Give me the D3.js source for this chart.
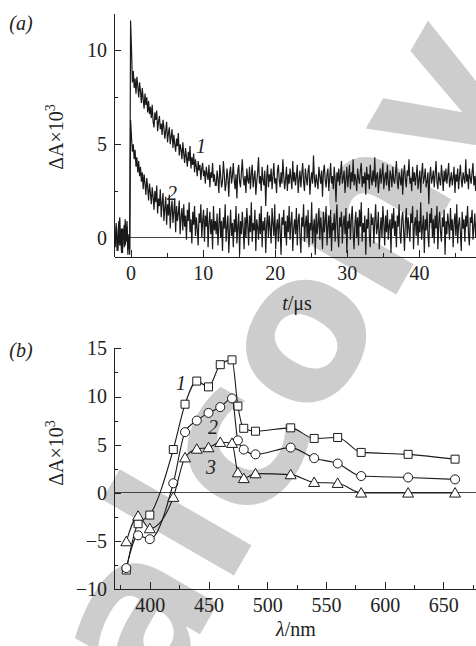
<!DOCTYPE html>
<meta charset="utf-8">
<head>
    <style>
        body { margin: 0; background: white; }
        svg text { font-family: "Liberation Serif", "Times New Roman", serif; }
        .axis path, .axis line { stroke: #222; stroke-width: 1; shape-rendering: crispEdges; }
        .axis text { font-family: "Liberation Serif", serif; font-size: 20px; fill: #222; }
    </style>
</head>
<body>
    <script src="https://d3js.org/d3.v7.min.js"></script>
    <div id="chart"></div>
    <script>
        // ---- data (a): kinetic traces, dA x 10^3, one sample every tStep us from tStart ----
        var tStart = -2.25, tStep = 0.125;
        var trace1 = [
            0.2, -0.5, 0.8, 0.1, -0.7, 0.4, 1.1, -0.2, 0.5, -0.8, 0.3, 0.7, -0.4, 0.0, 0.9, -0.6, -0.1, -0.9,
            11.6,
            10.1, 8.3, 8.9, 8.0, 8.5, 7.7, 8.6, 8.1, 7.5, 8.3,
            7.8, 7.2, 8.0, 7.4, 6.9, 7.7, 7.1, 7.5, 6.7, 7.3, 6.6, 7.0,
            6.4, 7.1, 6.2, 5.9, 6.7, 6.3, 6.8, 5.7, 6.2, 6.5, 5.8, 6.1,
            5.5, 6.3, 5.9, 5.3, 5.7, 6.2, 5.1, 5.6, 5.9, 5.0, 5.4, 5.8,
            4.8, 5.5, 5.0, 4.6, 5.3, 4.9, 5.6, 4.4, 5.0, 4.7, 4.2, 5.1,
            4.5, 4.0, 4.8, 4.3, 3.8, 4.6, 4.1, 4.9, 3.7, 4.3, 3.9, 4.5,
            3.5, 4.2, 3.8, 3.3, 4.1, 3.6, 3.9, 3.1, 3.7, 4.0, 3.3, 3.6,
            2.9, 3.8, 3.4, 3.1, 3.9, 2.7, 3.5, 3.2, 4.0, 3.0, 3.4, 2.8,
            2.8, 3.6, 3.1, 2.4, 3.9, 3.3, 2.7, 3.0, 4.1, 3.4, 2.5, 2.9, 3.7, 3.2, 2.2, 3.5, 3.8, 2.9, 3.3, 4.0,
            3.1, 2.6, 3.4, 2.1, 3.6, 3.9, 3.0, 2.7, 3.5, 4.2, 3.2, 2.8, 3.3, 2.4, 3.7, 3.1, 2.9, 3.8, 2.6, 3.4,
            3.9, 2.7, 3.2, 3.6, 2.3, 3.0, 3.5, 4.3, 2.9, 3.3, 2.5, 3.8, 3.1, 2.8, 3.6, 1.7, 3.2, 3.9, 2.7, 3.4,
            3.0, 3.7, 2.6, 3.3, 4.0, 2.9, 3.2, 2.4, 3.6, 3.9, 3.1, 2.7, 3.5, 2.9, 4.2, 3.3, 2.6, 3.1, 3.8, 2.5,
            3.4, 2.9, 3.7, 3.2, 2.6, 4.1, 3.0, 3.5, 2.8, 3.3, 3.9, 2.4, 3.1, 3.6, 2.7, 3.4, 4.0, 3.0, 2.5, 3.7,
            3.2, 2.8, 3.6, 3.9, 2.3, 3.1, 3.5, 2.9, 4.4, 3.2, 2.7, 3.4, 3.0, 2.6, 3.8, 3.3, 2.9, 3.6, 2.2, 3.5,
            3.9, 3.1, 2.7, 3.4, 3.7, 2.5, 3.2, 4.0, 2.9, 3.3, 2.6, 3.8, 3.1, 1.9, 3.5, 3.0, 3.7, 2.8, 3.4, 4.1,
            2.9, 3.2, 3.6, 2.4, 3.1, 3.8, 2.7, 3.3, 3.9, 2.6, 3.5, 3.0, 4.2, 2.8, 3.4, 3.1, 2.5, 3.7, 3.2, 2.9,
            3.6, 4.0, 2.7, 3.3, 2.9, 3.5, 2.3, 3.8, 3.1, 3.4, 2.6, 3.9, 3.2, 2.8, 3.6, 3.0, 4.3, 2.7, 3.3, 3.5,
            2.4, 3.1, 3.7, 2.9, 3.4, 4.0, 2.6, 3.2, 3.5, 2.8, 3.9, 3.0, 2.5, 3.6, 3.3, 2.7, 3.8, 3.1, 2.9, 3.4,
            4.1, 3.0, 2.6, 3.5, 3.2, 2.8, 3.7, 2.3, 3.4, 3.9, 3.1, 2.7, 3.6, 3.3, 4.2, 2.9, 3.2, 2.5, 3.8, 3.0,
            3.5, 2.8, 3.3, 3.9, 2.6, 3.1, 3.6, 2.4, 3.4, 4.0, 2.9, 3.2, 3.7, 2.7, 3.0, 3.5, 1.8, 3.3, 3.8, 2.9,
            3.2, 3.6, 2.7, 3.4, 4.1, 3.0, 2.6, 3.5, 3.1, 2.8, 3.9, 3.3, 2.5, 3.6, 3.0, 3.7, 2.9, 3.4, 4.0, 2.7,
            3.1, 3.5, 2.8, 3.2, 3.8, 2.4, 3.4, 3.0, 3.7, 2.6, 3.3, 3.9, 3.1, 2.7, 3.5, 3.2, 2.9, 4.2, 3.0, 3.4,
            2.6, 3.7, 3.2, 2.9, 3.5, 4.0, 2.8, 3.3, 2.5, 3.6, 3.1, 3.8, 2.7, 3.4, 3.0, 3.6, 2.8, 3.3, 3.9, 2.7, 3.2, 3.5
        ];
        var trace2 = [
            0.4, -0.3, 0.6, -0.7, 0.2, 0.9, -0.4, 0.1, -0.8, 0.5, 0.3, -0.5, 1.0, -0.2, 0.6, -0.9, 0.2, -0.6,
            6.3,
            5.4, 4.6, 5.0, 4.2, 4.7, 3.8, 4.3, 3.5, 4.1, 3.3,
            3.8, 3.0, 3.5, 2.6, 3.4, 2.9, 2.3, 3.2, 2.7, 2.0, 2.9, 2.4,
            1.8, 2.7, 2.2, 1.5, 2.5, 1.9, 2.8, 1.3, 2.1, 1.7, 2.6, 1.1,
            1.9, 2.4, 0.9, 1.6, 2.2, 0.7, 1.8, 1.2, 2.3, 0.5, 1.5, 2.0,
            0.8, 1.4, 2.1, 0.3, 1.7, 0.9, 1.3, 2.0, 0.2, 1.1, 1.6, 0.4,
            1.8, 0.6, 1.2, -0.1, 1.5, 0.9, 1.9, 0.3, 1.0, -0.3, 1.4, 0.7,
            1.7, 0.1, 1.1, 0.5, -0.4, 1.3, 0.8, 1.8, 0.0, 0.9, 1.5, -0.2,
            1.2, 0.6, 1.6, -0.5, 0.8, 1.4, 0.2, 1.0, -0.6, 1.7, 0.4, 0.9,
            0.2, 1.3, -0.4, 0.7, 1.6, 0.0, 0.9, -0.7, 1.1, 0.5, 1.8, -0.2, 0.6, 1.2, -0.8, 0.4, 1.5, 0.1, 0.8, -0.5,
            1.0, 0.3, 1.7, -0.3, 0.6, 1.3, -0.9, 0.9, 0.2, 1.4, 0.5, -0.6, 1.1, 0.0, 1.6, 0.7, -0.4, 1.2, 0.3, 1.9,
            -0.2, 0.8, 0.4, 1.5, -0.7, 1.0, 0.6, -0.1, 1.3, 0.2, 1.7, -0.5, 0.9, 0.4, 1.1, -0.8, 0.7, 1.4, 0.0, 1.2,
            0.5, -0.3, 1.6, 0.8, 0.1, 1.8, -0.6, 0.6, 1.0, -0.2, 1.3, 0.4, -0.9, 1.1, 0.7, 1.5, 0.0, 0.9, -0.4, 1.2,
            0.3, 1.7, -0.1, 0.8, 1.4, -0.7, 0.5, 1.0, 0.2, 1.6, -0.4, 0.9, 1.3, 0.1, -0.8, 1.1, 0.6, 1.8, -0.2, 0.7,
            1.2, 0.0, 1.5, -0.5, 0.8, 0.4, 1.9, -0.3, 0.6, 1.0, -0.9, 1.3, 0.2, 0.7, 1.6, -0.1, 1.1, 0.5, -0.6, 1.4,
            0.3, 0.9, 1.7, -0.4, 0.6, 1.2, 0.0, 1.5, -0.7, 0.8, 0.4, 1.3, -0.2, 1.0, 1.8, 0.1, -0.5, 1.1, 0.6, 1.4,
            -0.3, 0.7, 1.2, 0.2, 1.6, -0.8, 0.9, 0.5, 1.3, -0.1, 1.0, 1.7, 0.3, -0.6, 0.8, 1.4, 0.0, 1.1, -0.4, 1.5,
            0.6, 1.9, -0.2, 0.8, 0.3, 1.2, -0.9, 1.0, 0.5, 1.6, 0.1, -0.5, 1.3, 0.7, 1.1, -0.3, 0.9, 1.8, 0.2, 0.6,
            1.4, -0.6, 0.4, 1.1, 0.0, 1.7, 0.8, -0.4, 1.2, 0.3, 1.5, -0.1, 0.7, 1.0, -0.8, 1.3, 0.5, 1.6, 0.1, 0.9,
            -0.5, 1.2, 0.6, 1.8, 0.2, -0.3, 1.0, 1.4, 0.4, -0.7, 0.9, 1.6, 0.0, 1.1, 0.5, -0.2, 1.3, 0.8, 1.7, -0.6,
            0.7, 1.1, 0.1, 1.5, -0.4, 0.9, 0.3, 1.9, -0.1, 0.6, 1.2, -0.8, 1.0, 0.4, 1.4, 0.2, -0.5, 1.3, 0.8, 1.6,
            0.0, 1.0, -0.3, 1.2, 0.5, 1.7, -0.6, 0.8, 1.4, 0.3, -0.2, 1.1, 0.6, 1.5, -0.9, 0.9, 0.2, 1.3, 0.7, -0.1,
            1.6, 0.4, 1.0, -0.5, 0.8, 1.3, 0.1, 1.8, -0.3, 0.7, 1.1, 0.3, -0.7, 1.4, 0.5, 1.0, -0.2, 1.2, 0.6, 1.7,
            0.2, -0.4, 1.1, 0.8, 1.5, -0.1, 0.6, 1.3, 0.0, 0.9, -0.6, 1.2, 0.4, 1.6, 0.3, 0.8, -0.3, 1.0, 1.4, 0.5
        ];
        var tMajor = [0, 10, 20, 30, 40];
        var tMinor = [5, 15, 25, 35, 45];
        var aMajor = [0, 5, 10];
        var aMinor = [2.5, 7.5];

        // ---- data (b): spectra, dA x 10^3 ----
        var wavelengths = [380, 390, 400, 420, 430, 440, 450, 460, 470, 475, 480, 490, 520, 540, 560, 580, 620, 660];
        var spec1 = [-8.0, -3.2, -2.3, 4.5, 9.2, 11.6, 11.0, 13.3, 13.8, 9.0, 6.7, 6.4, 6.75, 5.65, 5.75, 4.2, 4.0, 3.5];
        var spec2 = [-7.8, -4.4, -4.8, 1.0, 6.3, 7.5, 8.3, 8.9, 9.8, 5.45, 4.5, 4.0, 4.7, 3.6, 3.05, 1.75, 1.6, 1.4];
        var spec3 = [-5.05, -2.4, -3.7, -0.45, 3.65, 4.55, 4.7, 5.25, 5.15, 2.1, 1.5, 2.0, 1.9, 1.1, 1.0, 0.0, 0.0, 0.0];
        var lamMajor = [400, 450, 500, 550, 600, 650];
        var lamMinor = [375, 425, 475, 525, 575, 625, 675];
        var bMajor = [-10, -5, 0, 5, 10, 15];
        var bMinor = [-7.5, -2.5, 2.5, 7.5, 12.5];

        var serif = "'Liberation Serif', 'Times New Roman', serif";
        var W = 476, H = 646;
        var svg = d3.select("#chart").append("svg")
            .attr("width", W)
            .attr("height", H);

        svg.append("rect").attr("width", W).attr("height", H).attr("fill", "white");

        // watermark, behind everything
        svg.append("text")
            .attr("transform", "translate(158,707) rotate(-60)")
            .style("font-family", "'DejaVu Sans', sans-serif")
            .attr("font-weight", "bold")
            .attr("font-size", 200)
            .attr("fill", "#cdcdcd")
            .text("alconv");

        function addAxes(g, x, y, xMaj, xMin, yMaj, yMin) {
            var gs = [];
            gs.push(g.append("g").attr("class", "axis")
                .attr("transform", "translate(0," + y.range()[0] + ")")
                .call(d3.axisBottom(x).tickValues(xMin).tickSize(-4).tickFormat("").tickSizeOuter(0)));
            gs.push(g.append("g").attr("class", "axis")
                .attr("transform", "translate(0," + y.range()[0] + ")")
                .call(d3.axisBottom(x).tickValues(xMaj).tickSize(-7).tickPadding(9).tickSizeOuter(0)));
            gs.push(g.append("g").attr("class", "axis")
                .attr("transform", "translate(" + x.range()[0] + ",0)")
                .call(d3.axisLeft(y).tickValues(yMin).tickSize(-4).tickFormat("").tickSizeOuter(0)));
            gs.push(g.append("g").attr("class", "axis")
                .attr("transform", "translate(" + x.range()[0] + ",0)")
                .call(d3.axisLeft(y).tickValues(yMaj).tickSize(-7).tickPadding(7).tickSizeOuter(0)
                    .tickFormat(function (d) { return d < 0 ? "\u2212" + Math.abs(d) : d; })));
            gs.forEach(function (a) {
                a.attr("font-family", serif).attr("font-size", 20);
                a.selectAll("text").style("font-family", serif);
            });
            // zero line
            g.append("line")
                .attr("x1", x.range()[0]).attr("x2", x.range()[1])
                .attr("y1", y(0)).attr("y2", y(0))
                .attr("stroke", "#444").attr("stroke-width", 1)
                .attr("shape-rendering", "crispEdges");
        }

        function yLabel(g, cx, cy) {
            var t = g.append("text")
                .attr("transform", "translate(" + cx + "," + cy + ") rotate(-90)")
                .attr("text-anchor", "middle")
                .style("font-family", serif)
                .attr("font-size", 20)
                .attr("fill", "#222");
            t.append("tspan").text("\u0394A\u00d710");
            t.append("tspan").attr("dy", -8).attr("font-size", 14).text("3");
        }

        function tag(g, x, y, s) {
            g.append("text").attr("x", x).attr("y", y)
                .style("font-family", serif)
                .attr("font-size", 20).attr("font-style", "italic").attr("fill", "#222")
                .attr("text-anchor", "middle").text(s);
        }

        // ---------------- panel (a) ----------------
        var xa = d3.scaleLinear().domain([-2.3, 50]).range([114, 491]);
        var ya = d3.scaleLinear().domain([-1, 12]).range([256.7, 13]);
        var ga = svg.append("g");

        svg.append("clipPath").attr("id", "clipA")
            .append("rect").attr("x", 114).attr("y", 0).attr("width", 380).attr("height", 257);

        var line = d3.line()
            .x(function (d, i) { return xa(tStart + i * tStep); })
            .y(function (d) { return ya(d); });

        addAxes(ga, xa, ya, tMajor, tMinor, aMajor, aMinor);

        [trace1, trace2].forEach(function (tr) {
            ga.append("path")
                .datum(tr)
                .attr("clip-path", "url(#clipA)")
                .attr("d", line)
                .attr("fill", "none")
                .attr("stroke", "#1a1a1a")
                .attr("stroke-width", 1.2);
        });

        tag(ga, 201, 153, "1");
        tag(ga, 172, 200, "2");
        tag(ga, 21, 30, "(a)");
        yLabel(ga, 63, 137);

        var xt = ga.append("text").attr("x", 297).attr("y", 310)
            .style("font-family", serif)
            .attr("text-anchor", "middle").attr("font-size", 20).attr("fill", "#222");
        xt.append("tspan").attr("font-style", "italic").text("t");
        xt.append("tspan").text("/\u03bcs");

        // ---------------- panel (b) ----------------
        var xb = d3.scaleLinear().domain([369.5, 690]).range([114, 490.3]);
        var yb = d3.scaleLinear().domain([-10, 15]).range([589.3, 348.3]);
        var gb = svg.append("g");

        addAxes(gb, xb, yb, lamMajor, lamMinor, bMajor, bMinor);

        var curve = d3.line()
            .curve(d3.curveMonotoneX)
            .x(function (d) { return xb(d[0]); })
            .y(function (d) { return yb(d[1]); });

        var specs = [spec1, spec2, spec3];
        var shapes = [d3.symbolSquare, d3.symbolCircle, d3.symbolTriangle];
        var sizes = [64, 64, 52];

        specs.forEach(function (s, k) {
            var pts = wavelengths.map(function (w, i) { return [w, s[i]]; });
            gb.append("path")
                .datum(pts)
                .attr("d", curve)
                .attr("fill", "none")
                .attr("stroke", "#1a1a1a")
                .attr("stroke-width", 1.1);
            gb.append("g").selectAll("path")
                .data(pts)
                .enter()
                .append("path")
                .attr("transform", function (d) {
                    var dy = k === 2 ? 1 : 0;
                    return "translate(" + xb(d[0]) + "," + (yb(d[1]) + dy) + ")";
                })
                .attr("d", d3.symbol().type(shapes[k]).size(sizes[k]))
                .attr("fill", "white")
                .attr("stroke", "#1a1a1a")
                .attr("stroke-width", 1);
        });

        tag(gb, 181, 390, "1");
        tag(gb, 213, 434, "2");
        tag(gb, 211, 474, "3");
        tag(gb, 21, 357, "(b)");
        yLabel(gb, 63, 453);

        var xl = gb.append("text").attr("x", 296).attr("y", 636)
            .style("font-family", serif)
            .attr("text-anchor", "middle").attr("font-size", 20).attr("fill", "#222");
        xl.append("tspan").attr("font-style", "italic").text("\u03bb");
        xl.append("tspan").text("/nm");
    </script>
</body>
